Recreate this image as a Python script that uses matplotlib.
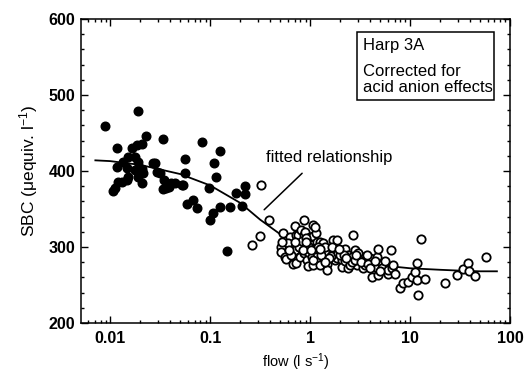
import matplotlib
matplotlib.use("Agg")
import matplotlib.pyplot as plt
from matplotlib.patches import Rectangle
from matplotlib.ticker import MultipleLocator, LogLocator, NullFormatter, FixedLocator, FixedFormatter

plt.rcParams['font.family'] = ['Liberation Sans', 'DejaVu Sans']
plt.rcParams['mathtext.fontset'] = 'custom'
plt.rcParams['mathtext.rm'] = 'Liberation Sans'
plt.rcParams['mathtext.it'] = 'Liberation Sans'

# low-flow samples (filled)
filled_flow = [0.0089, 0.0188, 0.0117, 0.0229, 0.0339, 0.0832, 0.126, 0.11, 0.0562, 0.0562,
               0.115, 0.098, 0.224, 0.182, 0.224, 0.209, 0.158, 0.126, 0.107, 0.1,
               0.074, 0.0676, 0.0589, 0.0537, 0.0447, 0.039, 0.0339, 0.0347, 0.0316, 0.0282,
               0.0209, 0.0209, 0.0107, 0.0117, 0.148, 0.0166, 0.0186, 0.0209, 0.0151, 0.0178,
               0.0135, 0.0191, 0.0148, 0.0178, 0.0214, 0.0295, 0.0151, 0.019, 0.0132, 0.0112,
               0.012, 0.0148, 0.0363, 0.0407, 0.027, 0.052]
filled_sbc = [459, 479, 430, 446, 442, 438, 426, 410, 416, 397,
              392, 378, 380, 371, 370, 354, 353, 353, 345, 336,
              351, 362, 356, 382, 384, 379, 376, 388, 397, 411,
              384, 403, 374, 405, 295, 430, 434, 435, 418, 418,
              412, 412, 404, 401, 398, 399, 392, 392, 386, 377,
              386, 388, 377, 384, 411, 382]

# higher-flow samples (open)
open_flow = [0.26, 0.316, 0.324, 0.389, 0.51, 0.51, 0.54, 0.56, 0.58, 0.63,
             0.68, 0.68, 0.71, 0.71, 0.72, 0.72, 0.76, 0.79, 0.81, 0.86,
             0.86, 0.87, 0.89, 0.89, 0.93, 0.95, 0.96, 1.0, 1.0, 1.04,
             1.06, 1.08, 1.08, 1.08, 1.17, 1.17, 1.26, 1.26, 1.36, 1.38,
             1.36, 1.47, 1.47, 1.52, 1.71, 1.71, 1.78, 1.78, 1.85, 1.85,
             2.07, 2.07, 2.24, 2.24, 2.42, 2.42, 2.51, 2.61, 2.71, 2.82,
             2.93, 2.93, 3.16, 3.41, 3.41, 3.55, 3.55, 3.98, 4.14, 4.3,
             4.47, 4.64, 4.8, 4.8, 5.2, 5.2, 5.6, 6.07, 6.07, 6.4,
             6.56, 6.8, 7.08, 7.94, 8.58, 9.6, 10.4, 11.2, 11.7, 11.7,
             12.1, 12.8, 14.1, 22.4, 29.3, 33.7, 38.2, 39.2, 44.7, 57.5,
             0.6, 0.65, 0.78, 0.83, 0.9, 0.98, 1.1, 1.15, 1.2, 1.3,
             1.42, 1.6, 1.65, 1.9, 2.0, 2.2, 2.6, 2.8, 3.2, 3.8,
             4.0, 5.0, 0.52, 1.12, 0.7, 0.92, 1.25, 1.55, 2.3, 3.0,
             0.62, 0.84, 1.02, 1.4, 1.95, 2.9, 3.7, 4.5]
open_sbc = [302, 314, 382, 336, 300, 294, 318, 287, 284, 313,
            297, 278, 327, 296, 316, 279, 316, 287, 322, 316,
            292, 335, 320, 298, 283, 275, 294, 305, 313, 287,
            276, 314, 329, 283, 307, 292, 307, 276, 305, 296,
            287, 278, 270, 292, 295, 309, 296, 283, 285, 309,
            283, 274, 298, 281, 289, 272, 276, 287, 316, 296,
            281, 276, 287, 287, 272, 283, 276, 285, 261, 278,
            274, 287, 298, 263, 278, 272, 281, 265, 270, 296,
            272, 276, 265, 246, 253, 254, 261, 267, 279, 256,
            237, 310, 258, 253, 263, 271, 279, 268, 262, 287,
            305, 290, 300, 308, 312, 300, 298, 318, 300, 290,
            300, 288, 300, 292, 290, 290, 280, 283, 280, 278,
            272, 268, 306, 326, 306, 306, 298, 285, 285, 292,
            296, 296, 296, 280, 298, 290, 290, 282]

# fitted relationship
fit_flow = [0.0071, 0.01, 0.02, 0.05, 0.1, 0.2, 0.316, 0.5, 0.7, 1.0,
            1.5, 2.0, 3.0, 5.0, 10.0, 20.0, 30.0, 50.0, 74.0]
fit_sbc = [414, 413, 408, 396, 381, 358, 336, 317, 307, 299,
           292, 287, 282, 276, 272, 270, 269, 268, 268]

fig = plt.figure(figsize=(5.27, 3.79), dpi=100)
ax = fig.add_axes([0.1537, 0.1478, 0.8140, 0.8021])

ax.plot(fit_flow, fit_sbc, color='black', lw=1.3, zorder=2)
ax.plot(filled_flow, filled_sbc, 'o', color='black', ms=6.2, zorder=3)
ax.plot(open_flow, open_sbc, 'o', mfc='white', mec='black', mew=1.3, ms=6.0, zorder=3)

ax.set_xscale('log')
ax.set_xlim(0.0051, 100)
ax.set_ylim(200, 600)

ax.xaxis.set_major_locator(FixedLocator([0.01, 0.1, 1, 10, 100]))
ax.xaxis.set_major_formatter(FixedFormatter(['0.01', '0.1', '1', '10', '100']))
ax.xaxis.set_minor_locator(LogLocator(base=10, subs=range(2, 10)))
ax.xaxis.set_minor_formatter(NullFormatter())
ax.yaxis.set_major_locator(MultipleLocator(100))
ax.yaxis.set_minor_locator(MultipleLocator(20))

ax.tick_params(which='both', direction='in', top=True, right=True, width=1.0)
ax.tick_params(which='major', length=5, labelsize=11.5)
ax.tick_params(axis='x', which='major', pad=6)
ax.tick_params(axis='y', which='major', pad=4)
ax.tick_params(which='minor', length=2.5)
for lab in ax.get_xticklabels() + ax.get_yticklabels():
    lab.set_fontweight('bold')
for sp in ax.spines.values():
    sp.set_linewidth(1.1)

ax.set_xlabel('flow (l s$^{-1}$)', fontsize=10.5, labelpad=4)
ax.set_ylabel('SBC (\u03bcequiv. l$^{-1}$)', fontsize=12.5, labelpad=6)

# annotation for the curve
ax.text(1.55, 418, 'fitted relationship', fontsize=12, ha='center', va='center')
ax.annotate('', xy=(0.347, 349), xytext=(0.832, 397),
            arrowprops=dict(arrowstyle='-', color='black', lw=1.1,
                            shrinkA=0, shrinkB=0))

# site label box
ax.text(0.657, 0.914, 'Harp 3A', transform=ax.transAxes, fontsize=12,
        ha='left', va='center')
ax.text(0.657, 0.826, 'Corrected for', transform=ax.transAxes,
        fontsize=12, ha='left', va='center')
ax.text(0.657, 0.776, 'acid anion effects', transform=ax.transAxes,
        fontsize=12, ha='left', va='center')
ax.add_patch(Rectangle((0.643, 0.734), 0.32, 0.223, transform=ax.transAxes,
                       fill=False, lw=1.1, ec='black', zorder=4))

fig.savefig('out.png', dpi=100)
